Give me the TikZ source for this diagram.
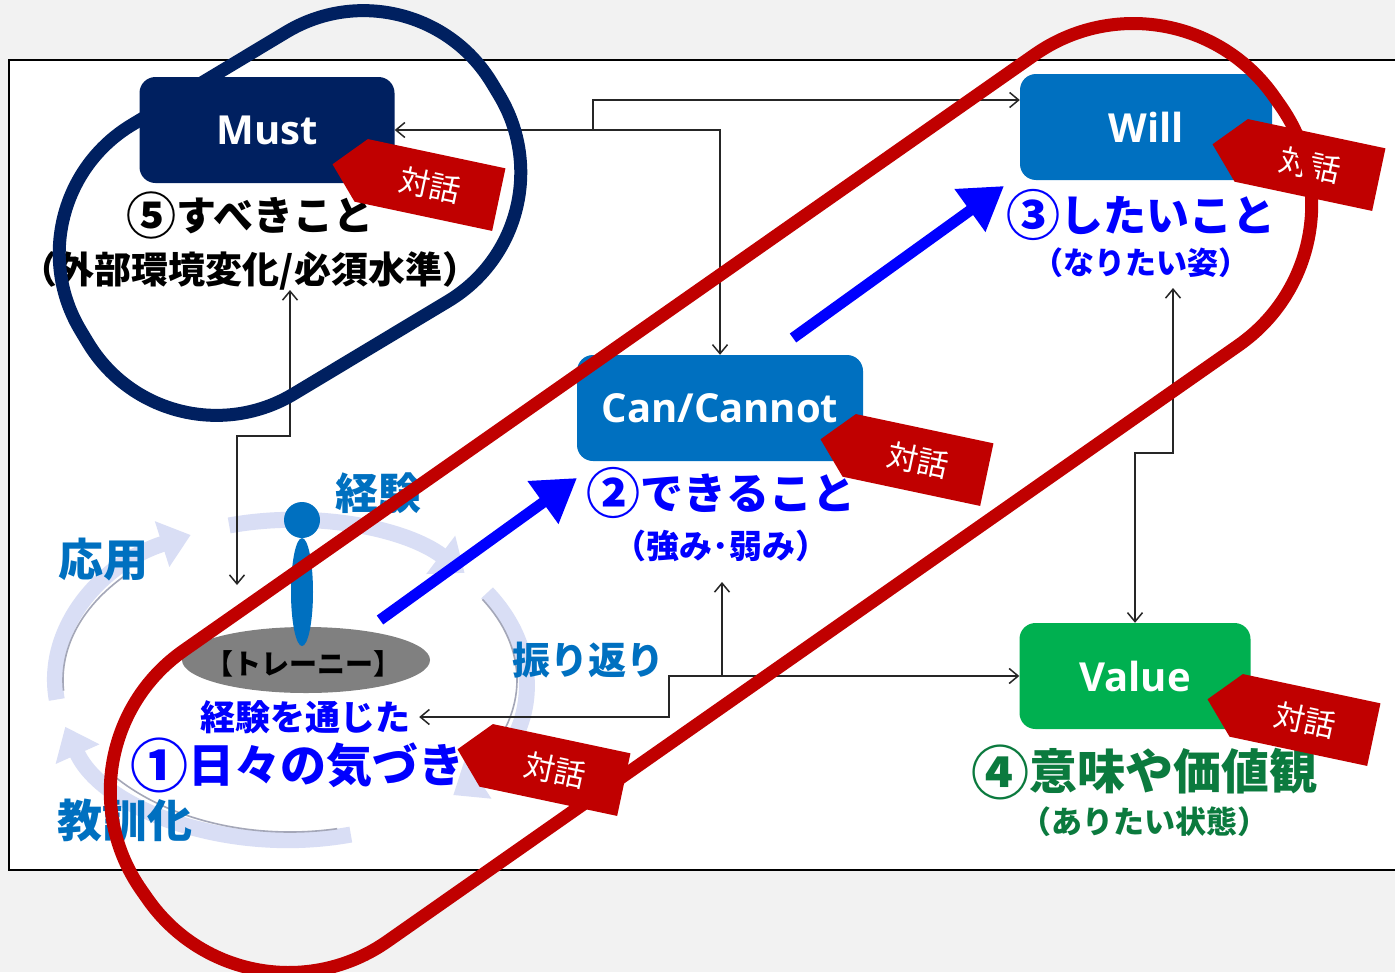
\documentclass[tikz,border=0pt]{standalone}
\usepackage{fontspec}
\setmainfont{Noto Sans CJK JP}
\newfontfamily\boxfont{Open Sans}
\usetikzlibrary{positioning}
\usetikzlibrary{shapes.symbols,arrows.meta}

\definecolor{mustnavy}{HTML}{002060}
\definecolor{boxblue}{HTML}{0070C0}
\definecolor{valuegreen}{HTML}{00B050}
\definecolor{deepgreen}{HTML}{0B7A3E}
\definecolor{tagred}{HTML}{C00000}
\definecolor{pagegray}{HTML}{F2F2F2}
\definecolor{ringfill}{HTML}{D9DEF5}
\definecolor{ringedge}{HTML}{A4A7B8}
\definecolor{linegray}{HTML}{262626}
\definecolor{padgray}{HTML}{808080}

% circled step number, a bit larger than the text around it
\newcommand{\ringnum}[2]{\raisebox{-0.1em}{\fontsize{#1}{#1}\selectfont #2}}

\tikzset{
  keybox/.style={rounded corners=16pt, minimum width=#1, minimum height=106pt,
    text=white, font=\boxfont\bfseries\fontsize{40pt}{40pt}\selectfont},
  talk/.style={signal, signal to=west, signal pointer angle=95, fill=tagred,
    text=white, minimum width=170pt, minimum height=64pt, inner sep=0pt,
    rotate=-12, font=\fontsize{31pt}{31pt}\selectfont},
  jp/.style={inner sep=1pt, font=\bfseries\fontsize{#1}{#1}\selectfont},
  conn/.style={draw=linegray, line width=1.5pt},
  ringarrow/.style={line width=16pt, draw=ringfill, -{Triangle[length=30pt,width=46pt]}},
  ringline/.style={draw=ringedge, line width=1.6pt},
  bigarrow/.style={draw=blue, line width=11pt, -{Triangle[length=42pt,width=50pt]}},
  loop/.style={draw=#1, line width=13pt, fill=none},
}

\begin{document}
\begin{tikzpicture}[x=1pt, y=-1pt, >={Straight Barb[length=9pt,width=15pt]}]
\useasboundingbox (0,0) rectangle (1395,972);
\fill[pagegray] (0,0) rectangle (1395,972);
\draw[line width=1.3pt, fill=white] (9,60) rectangle (1402,870);

% experience cycle
\coordinate (ring) at (290,680);
\draw[ringarrow] ([shift={(-105:235 and 160)}]ring) arc[start angle=-105, end angle=-42, x radius=235, y radius=160];
\draw[ringarrow] ([shift={(-33:235 and 160)}]ring) arc[start angle=-33, end angle=46, x radius=235, y radius=160];
\draw[ringarrow] ([shift={(75:235 and 160)}]ring) arc[start angle=75, end angle=163, x radius=235, y radius=160];
\draw[ringarrow] ([shift={(173:235 and 160)}]ring) arc[start angle=173, end angle=245, x radius=235, y radius=160];
% soft inner edges
\draw[ringline] ([shift={(-32:227 and 152)}]ring) arc[start angle=-32, end angle=30, x radius=227, y radius=152];
\draw[ringline] ([shift={(78:227 and 152)}]ring) arc[start angle=78, end angle=140, x radius=227, y radius=152];
\draw[ringline] ([shift={(176:227 and 152)}]ring) arc[start angle=176, end angle=225, x radius=227, y radius=152];

\node[jp=43, text=boxblue] (keiken) at (378,493) {経験};
\node[jp=45, text=boxblue] (ouyou) at (103,560) {応用};
\node[jp=38, text=boxblue] (furikaeri) at (588,660) {振り返り};
\node[jp=45, text=boxblue] (kyoukun) at (125,820) {教訓化};

% trainee
\fill[padgray] (306,660) ellipse[x radius=124, y radius=33];
\fill[boxblue] (302,592) ellipse[x radius=11, y radius=54];
\fill[boxblue] (302,520) circle[radius=18];
\node[jp=28, text=black] (trainee) at (303,664) {【トレーニー】};

% key boxes
\node[keybox=255pt, fill=mustnavy] (mustbox) at (267,130) {Must};
\node[keybox=252pt, fill=boxblue] (willbox) at (1146,127) {Will};
\node[keybox=286pt, fill=boxblue] (canbox) at (720,408) {Can/Cannot};
\node[keybox=231pt, fill=valuegreen] (valuebox) at (1135,676) {Value};

\coordinate (topsplit) at (593,130);
\coordinate (botsplit) at (722,676);
\coordinate (mustfoot) at (290,290);
\coordinate (ringtop) at (237,585);
\coordinate (willfoot) at (1173,288);
\coordinate (canfoot) at (722,582);

\node[jp=35, text=blue] (through) at (305,717) {経験を通じた};
\node[jp=46, text=blue] (daily) at (297,765) {\ringnum{58pt}{①}日々の気づき};

% connectors
\draw[conn,<->] (mustbox.east) -| (canbox.north);
\draw[conn,->] (topsplit) |- ([yshift=27pt]willbox.west);
\draw[conn,<->] ([xshift=8pt]through.east) -- (669,717) |- (valuebox.west);
\draw[conn,->] (botsplit) -- (canfoot);
\draw[conn,<->] (mustfoot) -- (290,436) -| (ringtop);
\draw[conn,<->] (willfoot) -- (1173,453) -| (valuebox.north);

% captions
\node[jp=40, text=black] (mustsub) at (250,215) {\ringnum{50pt}{⑤}すべきこと};
\node[jp=37, text=black, below=10pt of mustsub] (mustnote) {（外部環境変化/必須水準）};
\node[jp=43, text=blue] (cansub) at (721,493) {\ringnum{54pt}{②}できること};
\node[jp=33, text=blue, below=9pt of cansub] (cannote) {（強み･弱み）};
\node[jp=43, text=blue] (willsub) at (1141,215) {\ringnum{54pt}{③}したいこと};
\node[jp=31, text=blue, below=5pt of willsub] (willnote) {（なりたい姿）};
\node[jp=48, text=deepgreen] (valuesub) at (1144,772) {\ringnum{58pt}{④}意味や価値観};
\node[jp=31, text=deepgreen, below=5pt of valuesub] (valuenote) {（ありたい状態）};

% dialogue tags
\node[talk] (musttalk) at (430,185) {対話};
\node[talk] (cantalk) at (918,460) {対話};
\node[talk] (willtalk) at (1310,165) {対話};
\node[talk] (dailytalk) at (555,770) {対話};
\node[talk] (valuetalk) at (1305,720) {対話};

% growth arrows
\coordinate (upA0) at (380,620);
\coordinate (upA1) at (577,478);
\coordinate (upB0) at (793,338);
\coordinate (upB1) at (1004,186);
\draw[bigarrow] (upA0) -- (upA1);
\draw[bigarrow] (upB0) -- (upB1);

% outlines
\node[loop=mustnavy, rounded corners=150pt, minimum width=480pt, minimum height=314pt, rotate=31] (mustloop) at (290,213) {};
\node[loop=tagred, rounded corners=172pt, minimum width=1383pt, minimum height=355pt, rotate=35] (growloop) at (711,498) {};
\end{tikzpicture}
\end{document}
